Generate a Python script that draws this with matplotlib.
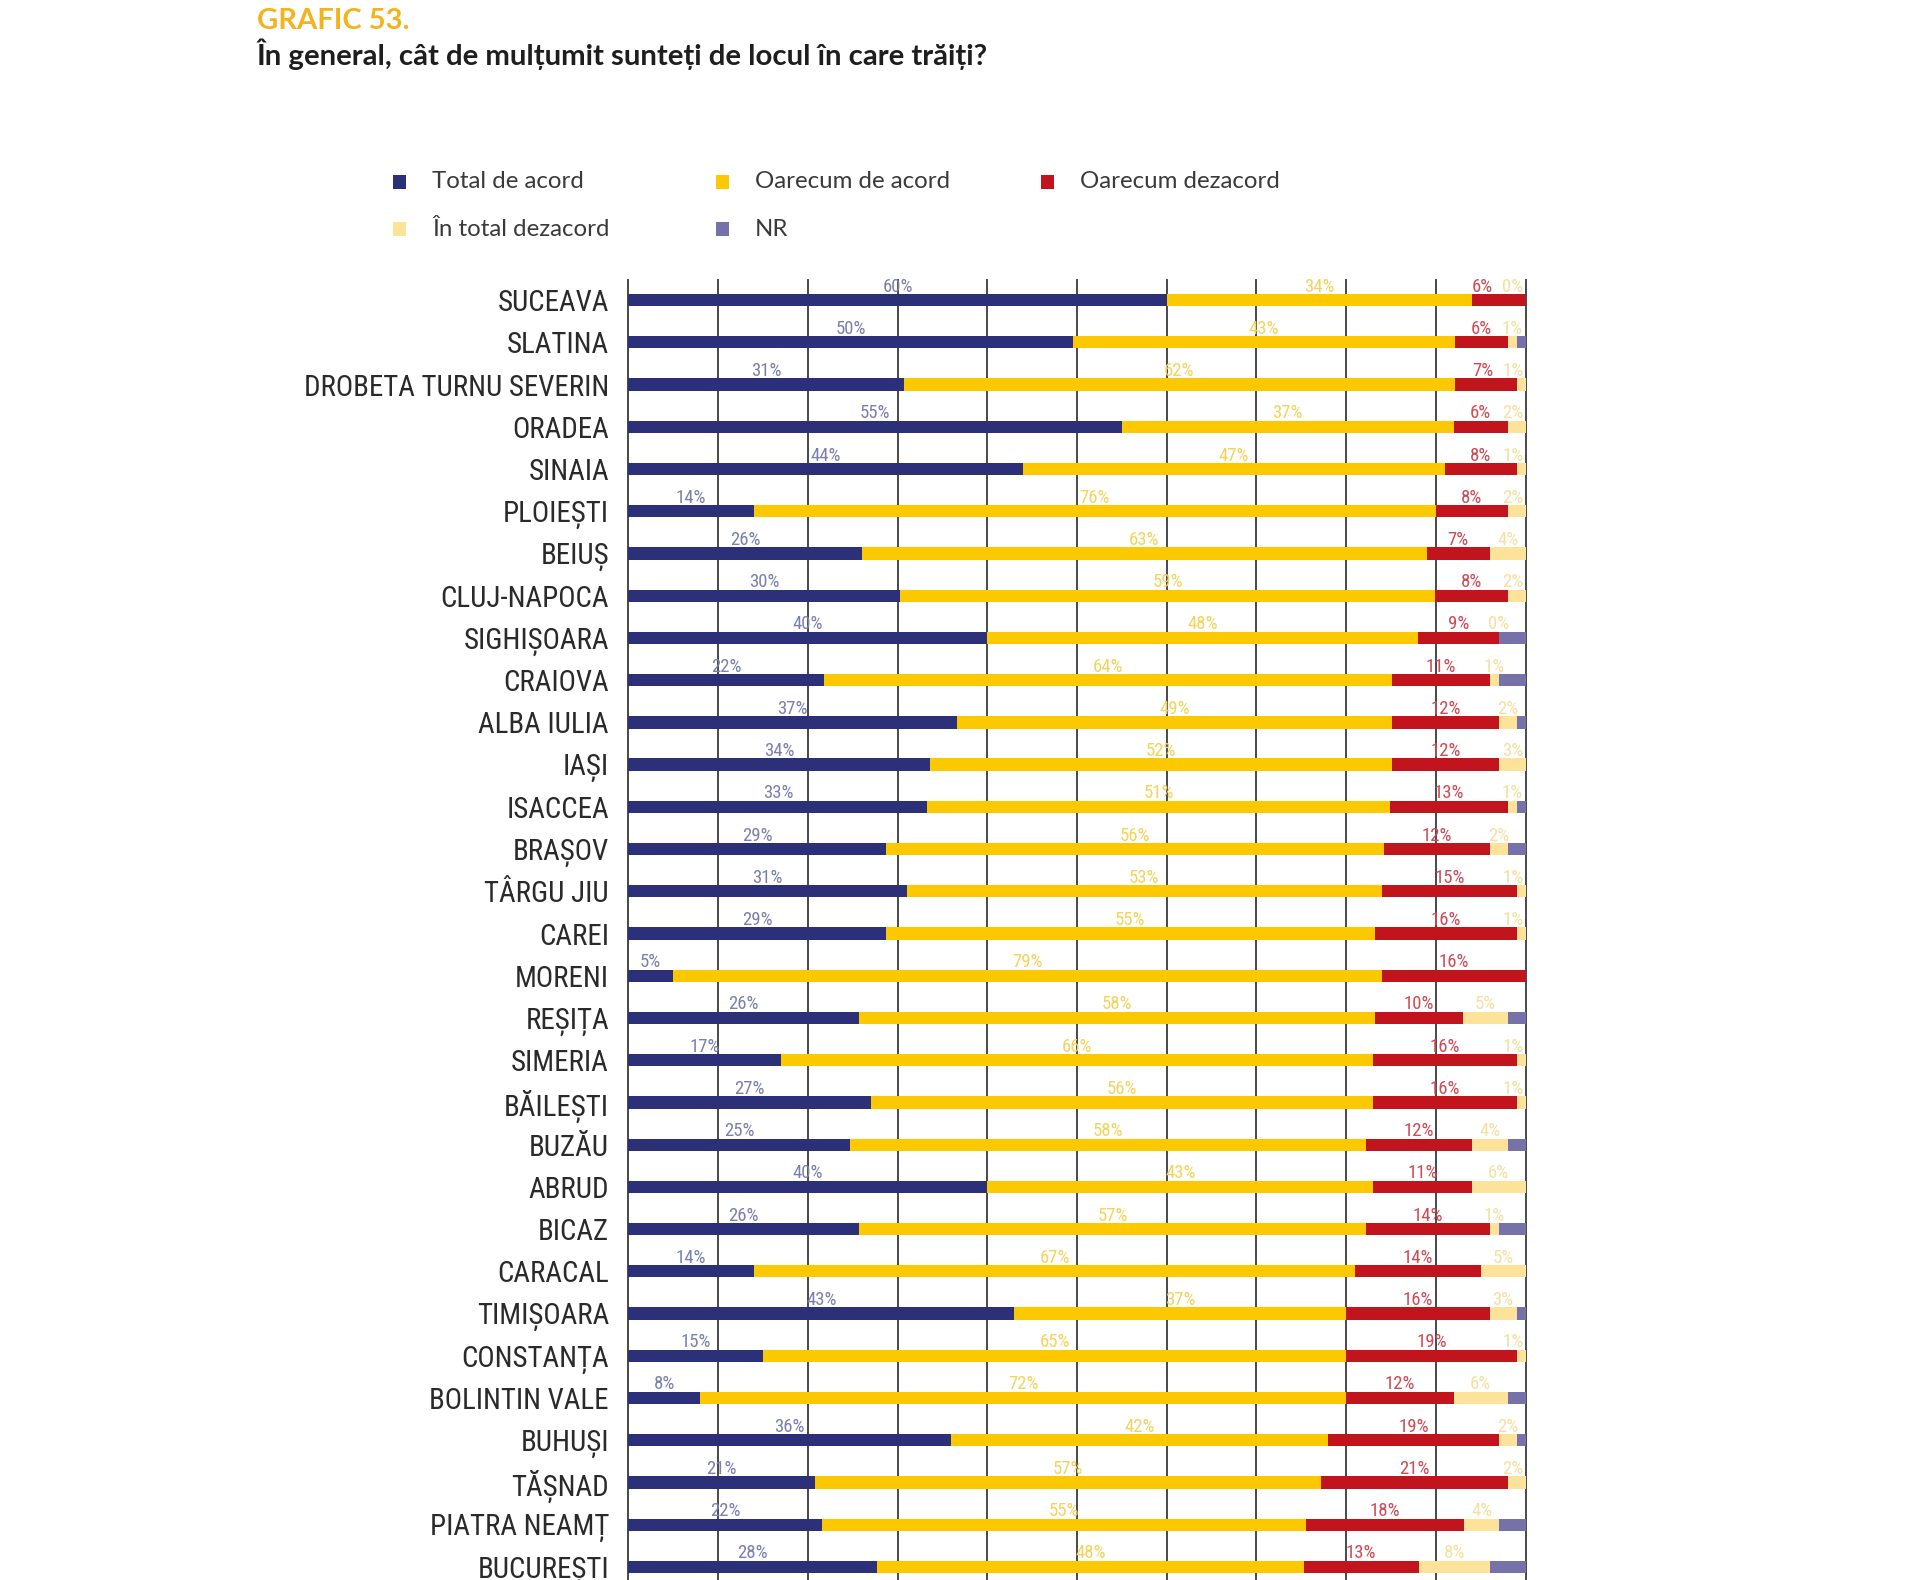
import numpy as np
import matplotlib
matplotlib.use("Agg")
import matplotlib.pyplot as plt
from matplotlib import font_manager
from matplotlib.patches import Rectangle

# ---------------- data ----------------
cities = ["SUCEAVA", "SLATINA", "DROBETA TURNU SEVERIN", "ORADEA", "SINAIA", "PLOIEȘTI",
          "BEIUȘ", "CLUJ-NAPOCA", "SIGHIȘOARA", "CRAIOVA", "ALBA IULIA", "IAȘI", "ISACCEA",
          "BRAȘOV", "TÂRGU JIU", "CAREI", "MORENI", "REȘIȚA", "SIMERIA", "BĂILEȘTI", "BUZĂU",
          "ABRUD", "BICAZ", "CARACAL", "TIMIȘOARA", "CONSTANȚA", "BOLINTIN VALE", "BUHUȘI",
          "TĂȘNAD", "PIATRA NEAMȚ", "BUCUREȘTI"]
total_acord = [60, 50, 31, 55, 44, 14, 26, 30, 40, 22, 37, 34, 33, 29, 31, 29, 5, 26, 17, 27,
               25, 40, 26, 14, 43, 15, 8, 36, 21, 22, 28]
oarecum_acord = [34, 43, 62, 37, 47, 76, 63, 59, 48, 64, 49, 52, 51, 56, 53, 55, 79, 58, 66, 56,
                 58, 43, 57, 67, 37, 65, 72, 42, 57, 55, 48]
oarecum_dezacord = [6, 6, 7, 6, 8, 8, 7, 8, 9, 11, 12, 12, 13, 12, 15, 16, 16, 10, 16, 16,
                    12, 11, 14, 14, 16, 19, 12, 19, 21, 18, 13]
total_dezacord = [0, 1, 1, 2, 1, 2, 4, 2, 0, 1, 2, 3, 1, 2, 1, 1, None, 5, 1, 1,
                  4, 6, 1, 5, 3, 1, 6, 2, 2, 4, 8]
nr = [0, 1, 0, 0, 0, 0, 0, 0, 3, 3, 1, 0, 1, 2, 0, 0, 0, 2, 0, 0,
      2, 0, 3, 0, 1, 0, 2, 1, 0, 3, 4]

series_names = ["Total de acord", "Oarecum de acord", "Oarecum dezacord", "În total dezacord", "NR"]
colors = ["#2b3079", "#fcc800", "#c1141d", "#fde39a", "#7671a8"]
label_colors = ["#7a80ad", "#f3d35c", "#cf4a55", "#f5e0a0"]

# ---------------- fonts ----------------
names = {f.name for f in font_manager.fontManager.ttflist}
def pick(*cands):
    for c in cands:
        if c in names:
            return c
    return "DejaVu Sans"
narrow = pick("Liberation Sans Narrow", "Roboto Condensed", "Liberation Sans")
lato = pick("Lato", "Open Sans", "DejaVu Sans")

# ---------------- figure ----------------
W, H = 1920, 1580
fig = plt.figure(figsize=(W / 100, H / 100), dpi=100)
fig.patch.set_facecolor("white")

n = len(cities)
ax = fig.add_axes([627 / W, 0.0, 900 / W, 1 - 279 / H])

vals = np.array([total_acord, oarecum_acord, oarecum_dezacord,
                 [0 if v is None else v for v in total_dezacord], nr], dtype=float).T
norm = vals / vals.sum(axis=1, keepdims=True) * 100
y = np.arange(n)
left = np.zeros(n)
for k in range(5):
    ax.barh(y, norm[:, k], left=left, height=0.29, color=colors[k], zorder=3, linewidth=0)
    left += norm[:, k]

# value labels
label_series = [total_acord, oarecum_acord, oarecum_dezacord, total_dezacord]
cum = np.cumsum(norm, axis=1)
starts = cum - norm
for i in range(n):
    centers = (starts[i, :4] + cum[i, :4]) / 2
    xs = list(centers)
    light_x = min(max(xs[3], xs[2] + 3.2), 98.6)
    red_x = min(xs[2], light_x - 3.4)
    xs[2], xs[3] = red_x, light_x
    for k in range(4):
        v = label_series[k][i]
        if v is None:
            continue
        ax.text(xs[k], i - 0.32, f"{v}%", ha="center", va="center",
                fontsize=13.5, family=narrow, color=label_colors[k], zorder=4)

ax.set_xlim(-0.15, 100.15)
ax.set_ylim(30.31, -0.5)
ax.set_xticks(np.arange(0, 101, 10))
ax.grid(axis="x", color="#3a3a3a", linewidth=1.3, zorder=1)
ax.set_axisbelow(True)
ax.tick_params(axis="x", length=0, labelbottom=False)
ax.set_yticks(y)
ax.set_yticklabels(cities, family=narrow, fontsize=20.8, color="#2a2a2a")
ax.tick_params(axis="y", length=0, pad=13)
for s in ax.spines.values():
    s.set_visible(False)

# ---------------- titles ----------------
fig.text(257 / W, 1 - 21 / H, "GRAFIC 53.", family=lato, fontweight="bold",
         fontsize=21, color="#f2b31c", ha="left", va="center")
fig.text(257 / W, 1 - 54 / H, "În general, cât de mulțumit sunteți de locul în care trăiți?",
         family=lato, fontweight="bold", fontsize=21.2, color="#1e1e1e", ha="left", va="center")

# ---------------- legend ----------------
leg_pos = [(399, 182), (722, 182), (1047, 182), (399, 229), (722, 229)]
for (lx, ly), name, col in zip(leg_pos, series_names, colors):
    sq = 13
    fig.patches.append(Rectangle(((lx - sq / 2) / W, 1 - (ly + sq / 2) / H), sq / W, sq / H,
                                 transform=fig.transFigure, facecolor=col, edgecolor="none"))
    fig.text((lx + 33) / W, 1 - ly / H, name, family=lato, fontsize=17.3,
             color="#3a3a3a", ha="left", va="center")

fig.savefig("out.png", dpi=100, facecolor="white")
